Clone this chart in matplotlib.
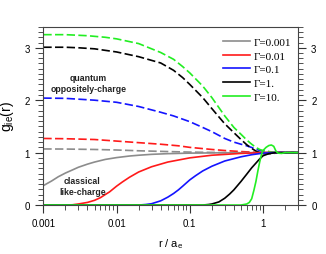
import matplotlib

matplotlib.use("Agg")
import matplotlib.pyplot as plt
from matplotlib.ticker import MultipleLocator, LogLocator, NullFormatter, FixedLocator

plt.rcParams["font.family"] = ["Liberation Sans", "DejaVu Sans"]
plt.rcParams["mathtext.fontset"] = "custom"
plt.rcParams["mathtext.rm"] = "Liberation Sans"
plt.rcParams["mathtext.it"] = "Liberation Sans"

# classical like-charge (solid)
r_g001 = [0.001, 0.0013, 0.0016, 0.002, 0.0025, 0.003, 0.004, 0.005, 0.007,
          0.01, 0.015, 0.02, 0.03, 0.05, 0.1, 0.3, 1.0, 3.0]
g_g001 = [0.37, 0.46, 0.54, 0.61, 0.67, 0.72, 0.78, 0.82, 0.87,
          0.905, 0.935, 0.95, 0.967, 0.98, 0.99, 0.997, 1.0, 1.0]

r_g01 = [0.001, 0.002, 0.0025, 0.003, 0.004, 0.005, 0.006, 0.007, 0.008, 0.01,
         0.012, 0.015, 0.02, 0.03, 0.05, 0.1, 0.2, 0.5, 1.0, 3.0]
g_g01 = [0.0, 0.0, 0.005, 0.02, 0.05, 0.09, 0.14, 0.2, 0.25, 0.36,
         0.44, 0.53, 0.63, 0.73, 0.82, 0.9, 0.95, 0.985, 1.0, 1.0]

r_g1 = [0.001, 0.02, 0.025, 0.03, 0.04, 0.05, 0.06, 0.07, 0.08, 0.1,
        0.12, 0.15, 0.2, 0.3, 0.5, 0.7, 1.0, 1.5, 3.0]
g_g1 = [0.0, 0.0, 0.01, 0.025, 0.08, 0.15, 0.22, 0.29, 0.36, 0.48,
        0.56, 0.65, 0.74, 0.84, 0.92, 0.96, 0.99, 1.0, 1.0]

r_g10 = [0.001, 0.15, 0.18, 0.2, 0.25, 0.3, 0.35, 0.4, 0.5, 0.6,
         0.7, 0.8, 0.9, 1.0, 1.2, 1.5, 3.0]
g_g10 = [0.0, 0.0, 0.01, 0.02, 0.06, 0.13, 0.21, 0.29, 0.45, 0.59,
         0.71, 0.8, 0.88, 0.94, 0.98, 1.0, 1.0]

r_g100 = [0.001, 0.5, 0.6, 0.65, 0.7, 0.75, 0.8, 0.85, 0.9, 0.95, 1.0,
          1.1, 1.2, 1.3, 1.4, 1.5, 1.6, 1.8, 2.0, 3.0]
g_g100 = [0.0, 0.0, 0.02, 0.05, 0.12, 0.28, 0.45, 0.65, 0.82, 0.96, 1.04,
          1.1, 1.135, 1.145, 1.12, 1.03, 0.99, 0.985, 1.0, 1.0]

# quantum oppositely-charge (dashed)
rq_g001 = [0.001, 0.002, 0.005, 0.01, 0.02, 0.05, 0.1, 0.3, 1.0, 3.0]
gq_g001 = [1.07, 1.068, 1.06, 1.05, 1.035, 1.02, 1.01, 1.0, 1.0, 1.0]

rq_g01 = [0.001, 0.002, 0.005, 0.01, 0.02, 0.04, 0.07, 0.1, 0.2, 0.3,
          0.5, 0.8, 1.0, 3.0]
gq_g01 = [1.27, 1.265, 1.25, 1.22, 1.19, 1.16, 1.13, 1.10, 1.06, 1.04,
          1.02, 1.005, 1.0, 1.0]

rq_g1 = [0.001, 0.002, 0.005, 0.01, 0.02, 0.04, 0.06, 0.1, 0.15, 0.2,
         0.3, 0.4, 0.5, 0.6, 0.8, 0.9, 1.0, 1.3, 2.0, 3.0]
gq_g1 = [2.04, 2.035, 2.0, 1.96, 1.88, 1.77, 1.70, 1.59, 1.48, 1.40,
         1.27, 1.20, 1.16, 1.13, 1.07, 1.04, 1.03, 1.01, 1.0, 1.0]

rq_g10 = [0.001, 0.002, 0.003, 0.005, 0.01, 0.02, 0.04, 0.06, 0.08, 0.1,
          0.15, 0.2, 0.25, 0.3, 0.4, 0.5, 0.6, 0.7, 0.8, 0.9,
          1.0, 1.2, 1.5, 2.0, 3.0]
gq_g10 = [3.01, 3.01, 3.0, 2.98, 2.92, 2.83, 2.71, 2.57, 2.43, 2.3,
          2.05, 1.84, 1.68, 1.55, 1.38, 1.25, 1.15, 1.08, 1.03, 1.0,
          0.98, 0.98, 0.99, 1.0, 1.0]

rq_g100 = [0.001, 0.002, 0.004, 0.007, 0.01, 0.02, 0.04, 0.06, 0.08, 0.1,
           0.15, 0.2, 0.3, 0.4, 0.5, 0.6, 0.7, 0.8, 0.9, 1.0,
           1.2, 1.5, 1.7, 2.0, 3.0]
gq_g100 = [3.25, 3.25, 3.23, 3.2, 3.17, 3.08, 2.91, 2.78, 2.64, 2.52,
           2.27, 2.05, 1.7, 1.48, 1.35, 1.24, 1.16, 1.10, 1.06, 1.04,
           1.02, 1.0, 0.99, 1.0, 1.0]

labels = ["\u0393=0.001", "\u0393=0.01", "\u0393=0.1", "\u0393=1.", "\u0393=10."]
colors = ["#8c8c8c", "#ff1a1a", "#1414ff", "#000000", "#22ee22"]

solid = [(r_g001, g_g001), (r_g01, g_g01), (r_g1, g_g1), (r_g10, g_g10), (r_g100, g_g100)]
dashed = [(rq_g001, gq_g001), (rq_g01, gq_g01), (rq_g1, gq_g1), (rq_g10, gq_g10), (rq_g100, gq_g100)]

fig = plt.figure(figsize=(3.26, 2.55), dpi=100)
ax = fig.add_axes([0.133, 0.192, 0.781, 0.699])

for (r, g), c in zip(dashed, colors):
    ax.plot(r, g, color=c, lw=1.2, linestyle=(0, (5, 2)))

handles = []
for (r, g), c, lab in zip(solid, colors, labels):
    h, = ax.plot(r, g, color=c, lw=1.2, label=lab)
    handles.append(h)

ax.set_xscale("log")
ax.set_xlim(0.001, 3.0)
ax.set_ylim(0, 3.4)

ax.xaxis.set_major_locator(FixedLocator([0.001, 0.01, 0.1, 1]))
ax.set_xticklabels(["0.001", "0.01", "0.1", "1"])
ax.xaxis.set_minor_locator(LogLocator(base=10, subs=range(2, 10), numticks=20))
ax.xaxis.set_minor_formatter(NullFormatter())
ax.yaxis.set_major_locator(MultipleLocator(1))
ax.yaxis.set_minor_locator(MultipleLocator(0.1))

ax.tick_params(which="both", direction="out", labelsize=7, colors="#333333",
               labelcolor="black", right=True, labelright=True, top=False)
ax.tick_params(which="major", length=6, width=0.8)
ax.tick_params(which="minor", length=3.5, width=0.6)
for s in ax.spines.values():
    s.set_color("#444444")
    s.set_linewidth(0.8)

ax.set_ylabel("g$_{\\mathrm{ie}}$(r)", fontsize=10, labelpad=6)
ax.set_xlabel("r / a$_{\\mathrm{e}}$", fontsize=8, labelpad=6)

ax.text(0.0041, 2.33, "quantum\noppositely-charge", ha="center", va="center",
        fontsize=6.3, fontweight="bold", color="#222222", linespacing=1.3)
ax.text(0.0034, 0.36, "classical\nlike-charge", ha="center", va="center",
        fontsize=6.3, fontweight="bold", color="#222222", linespacing=1.3)

ax.legend(handles=handles, loc="upper left", bbox_to_anchor=(0.675, 0.985),
          frameon=False, prop={"family": "Liberation Serif", "size": 8},
          handlelength=2.4, handletextpad=0.4, labelspacing=0.35, borderpad=0.2)

fig.savefig("out.png", dpi=100)
